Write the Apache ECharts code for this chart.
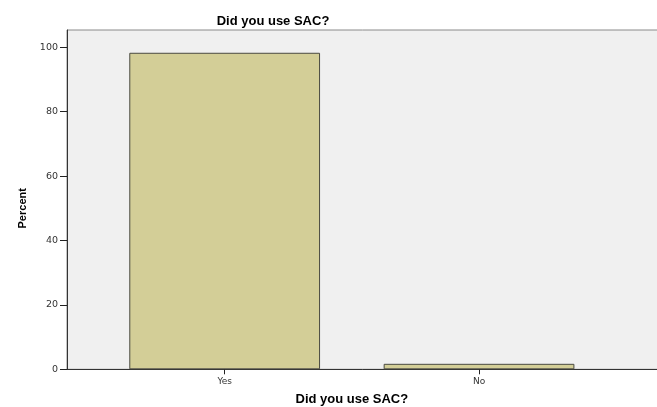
<!DOCTYPE html>
<html>
<head>
<meta charset="utf-8">
<script src="https://cdn.jsdelivr.net/npm/echarts@6/dist/echarts.min.js"></script>
<style>
html,body{margin:0;padding:0;background:#fff;}
#chart{width:657px;height:407px;}
</style>
</head>
<body>
<div id="chart"></div>
<script>
var categories = ['Yes', 'No'];
var percentValues = [98.3, 1.7];
var yTicks = [0, 20, 40, 60, 80, 100];

var chart = echarts.init(document.getElementById('chart'), null, {renderer: 'canvas'});
var font = 'Liberation Sans, Arial, sans-serif';
var option = {
  backgroundColor: '#ffffff',
  animation: false,
  title: {
    text: 'Did you use SAC?',
    left: 268,
    top: 10,
    textAlign: 'center',
    textStyle: {fontFamily: font, fontSize: 13, fontWeight: 'bold', color: '#000'}
  },
  grid: [
    {left: 67, top: 30, right: -20, bottom: 37.7, show: true, outerBoundsMode: 'none', containLabel: false,
     backgroundColor: '#f0f0f0', borderColor: '#8a8a8a', borderWidth: 1},
    {left: 97.5, width: 508.7, top: 47.3, bottom: 37.7, outerBoundsMode: 'none', containLabel: false}
  ],
  xAxis: [
    {gridIndex: 0, type: 'value', min: 0, max: 1,
     axisLine: {show: true, onZero: false, lineStyle: {color: '#333', width: 1}},
     axisTick: {show: false}, axisLabel: {show: false}, splitLine: {show: false}},
    {gridIndex: 1, type: 'category', data: categories,
     axisLine: {show: false},
     axisTick: {show: true, alignWithLabel: true, length: 5, lineStyle: {color: '#222'}},
     axisLabel: {fontFamily: 'DejaVu Sans, sans-serif', fontSize: 9, color: '#333', margin: 8},
     name: 'Did you use SAC?', nameLocation: 'middle', nameGap: 24,
     nameTextStyle: {fontFamily: font, fontSize: 13, fontWeight: 'bold', color: '#000'}}
  ],
  yAxis: [
    {gridIndex: 0, type: 'value', min: 0, max: 1,
     axisLine: {show: true, lineStyle: {color: '#333', width: 1}},
     axisTick: {show: false}, axisLabel: {show: false}, splitLine: {show: false}},
    {gridIndex: 1, type: 'value', min: yTicks[0], max: yTicks[yTicks.length - 1], interval: 20,
     offset: 30.5,
     axisLine: {show: false},
     axisTick: {show: true, length: 7, lineStyle: {color: '#222'}},
     axisLabel: {fontFamily: 'DejaVu Sans, sans-serif', fontSize: 9.5, color: '#333', margin: 9},
     splitLine: {show: false},
     name: 'Percent', nameLocation: 'middle', nameGap: 33, nameRotate: 90,
     nameTextStyle: {fontFamily: font, fontSize: 11, fontWeight: 'bold', color: '#000'}}
  ],
  series: [{
    type: 'bar',
    xAxisIndex: 1, yAxisIndex: 1,
    data: percentValues,
    barCategoryGap: '25%',
    itemStyle: {color: '#d3ce97', borderColor: '#4a4a40', borderWidth: 1}
  }]
};
chart.setOption(option);
</script>
</body>
</html>
